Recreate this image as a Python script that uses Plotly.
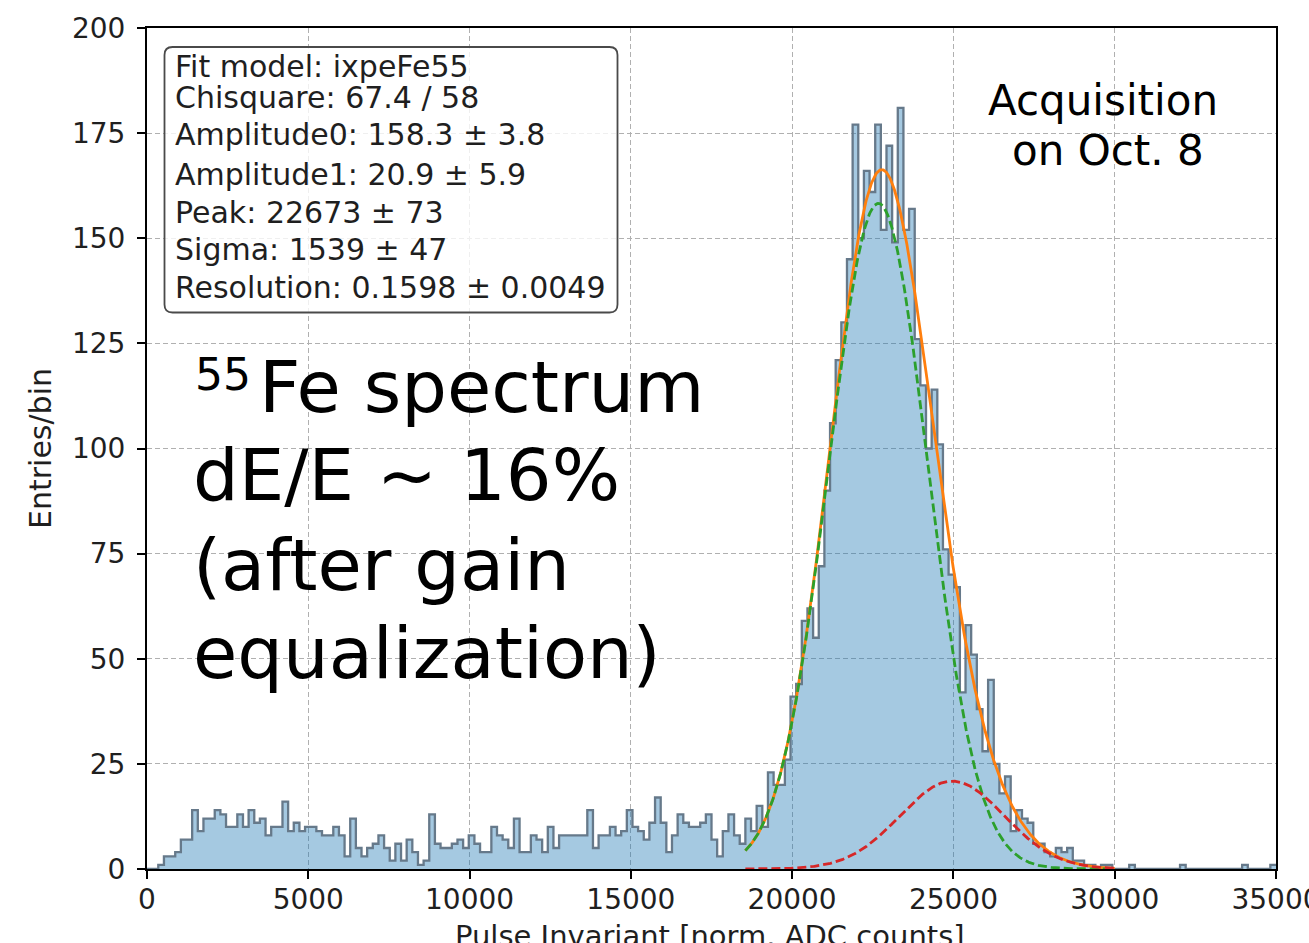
import numpy as np
import plotly.graph_objects as go

# ---------------- data ----------------
BIN_WIDTH = 175.0          # ADC counts per bin
X_START = 0.0
counts = [
    0, 0, 1, 3, 3, 4, 7, 7, 14, 9,
    12, 12, 14, 13, 10, 10, 13, 10, 14, 11,
    12, 8, 10, 10, 16, 9, 11, 9, 10, 10,
    9, 8, 8, 10, 8, 3, 12, 5, 3, 5,
    6, 8, 5, 2, 6, 2, 7, 4, 1, 2,
    13, 6, 5, 5, 6, 7, 5, 8, 6, 4,
    4, 10, 8, 7, 5, 12, 4, 4, 8, 7,
    4, 10, 5, 8, 8, 8, 8, 8, 14, 5,
    8, 8, 10, 8, 9, 14, 10, 9, 7, 11,
    17, 11, 4, 8, 13, 11, 10, 10, 11, 13,
    7, 3, 9, 13, 8, 6, 12, 9, 15, 10,
    23, 20, 20, 26, 41, 44, 59, 62, 55, 72,
    90, 106, 121, 130, 145, 177, 150, 166, 161, 177,
    152, 172, 149, 181, 152, 157, 126, 115, 100, 114,
    101, 76, 70, 67, 42, 58, 51, 38, 28, 45,
    25, 18, 22, 9, 14, 12, 11, 6, 6, 4,
    3, 5, 4, 5, 2, 2, 1, 1, 0, 1,
    1, 0, 0, 0, 1, 0, 0, 0, 0, 0,
    0, 0, 0, 1, 0, 0, 0, 0, 0, 0,
    0, 0, 0, 0, 1, 0, 0, 0, 0, 1,
]

# fit results (ixpeFe55 model: K-alpha + K-beta gaussians)
AMPLITUDE0 = 158.3
AMPLITUDE1 = 20.9
PEAK = 22673.0
SIGMA = 1539.0
KBETA_KALPHA_RATIO = 6.490 / 5.895
FIT_RANGE = [18550.0, 30000.0]

x_ticks = [0, 5000, 10000, 15000, 20000, 25000, 30000, 35000]
y_ticks = [0, 25, 50, 75, 100, 125, 150, 175, 200]
x_title = "Pulse Invariant [norm. ADC counts]"
y_title = "Entries/bin"

stat_lines = [
    "Fit model: ixpeFe55",
    "Chisquare: 67.4 / 58",
    "Amplitude0: 158.3 \u00b1 3.8",
    "Amplitude1: 20.9 \u00b1 5.9",
    "Peak: 22673 \u00b1 73",
    "Sigma: 1539 \u00b1 47",
    "Resolution: 0.1598 \u00b1 0.0049",
]
big_lines = ["Fe spectrum", "dE/E ~ 16%", "(after gain", "equalization)"]
big_sup = "55"
acq_lines = ["Acquisition", "on Oct. 8"]

# ---------------- geometry ----------------
W, H = 1309, 943
ML, MR, MT, MB = 147, 33, 28, 74
PW, PH = W - ML - MR, H - MT - MB
FONT = "DejaVu Sans"
TXT = "#1f1f1f"


def px(xp):
    return (xp - ML) / PW


def py(yp):
    return (H - MB - yp) / PH


# ---------------- traces ----------------
edges = X_START + BIN_WIDTH * np.arange(len(counts) + 1)
step_y = list(counts) + [counts[-1]]

xf = np.linspace(FIT_RANGE[0], FIT_RANGE[1], 600)
peak1 = PEAK * KBETA_KALPHA_RATIO
sigma1 = SIGMA * np.sqrt(KBETA_KALPHA_RATIO)
g0 = AMPLITUDE0 * np.exp(-0.5 * ((xf - PEAK) / SIGMA) ** 2)
g1 = AMPLITUDE1 * np.exp(-0.5 * ((xf - peak1) / sigma1) ** 2)

fig = go.Figure()
fig.add_trace(go.Scatter(
    x=edges, y=step_y, mode="lines", line_shape="hv",
    line=dict(color="#66798a", width=2.3),
    fill="tozeroy", fillcolor="rgba(31,119,180,0.4)",
    hoverinfo="skip", showlegend=False))
fig.add_trace(go.Scatter(x=xf, y=g0 + g1, mode="lines",
                         line=dict(color="#ff7f0e", width=2.8), showlegend=False))
fig.add_trace(go.Scatter(x=xf, y=g0, mode="lines",
                         line=dict(color="#2ca02c", width=2.8, dash="9px,4px"), showlegend=False))
fig.add_trace(go.Scatter(x=xf, y=g1, mode="lines",
                         line=dict(color="#d62728", width=2.8, dash="9px,4px"), showlegend=False))

axis_common = dict(
    showline=True, linecolor="black", linewidth=2, mirror=True,
    ticks="outside", ticklen=8, tickwidth=2, tickcolor="black",
    showgrid=True, gridcolor="#b0b0b0", gridwidth=1.2, griddash="5px,3px",
    zeroline=False, automargin=False, ticklabeloverflow="allow",
    tickfont=dict(family=FONT, size=28, color=TXT),
)

fig.update_layout(
    width=W, height=H,
    margin=dict(l=ML, r=MR, t=MT, b=MB, pad=0),
    paper_bgcolor="white", plot_bgcolor="white",
    font=dict(family=FONT, color=TXT),
    xaxis=dict(range=[0, 35000], tickvals=x_ticks, ticktext=[str(v) for v in x_ticks],
               ticklabelstandoff=-4,
               **axis_common),
    yaxis=dict(range=[0, 200], tickvals=y_ticks, ticktext=[str(v) for v in y_ticks],
               title=dict(text=y_title,
                          font=dict(family=FONT, size=30, color=TXT), standoff=11),
               ticklabelstandoff=6,
               **axis_common),
)

# stats box (rounded rectangle)
bx0, bx1, by0, by1 = px(164.5), px(617.5), py(312.5), py(47)
rx, ry = 8 / PW, 8 / PH
path = (f"M {bx0+rx},{by1} L {bx1-rx},{by1} Q {bx1},{by1} {bx1},{by1-ry} "
        f"L {bx1},{by0+ry} Q {bx1},{by0} {bx1-rx},{by0} L {bx0+rx},{by0} "
        f"Q {bx0},{by0} {bx0},{by0+ry} L {bx0},{by1-ry} Q {bx0},{by1} {bx0+rx},{by1} Z")
fig.add_shape(type="path", path=path, xref="paper", yref="paper",
              fillcolor="rgba(255,255,255,0.8)", line=dict(color="#4a4a4a", width=1.8),
              layer="above")

annotations = []
# x-axis title (sits partly below the bottom edge, as in the reference)
annotations.append(dict(
    x=px(710), y=py(936), xref="paper", yref="paper", text=x_title,
    showarrow=False, xanchor="center", yanchor="middle",
    font=dict(family=FONT, size=29, color=TXT)))

STAT = 30
stat_baselines = [77.3, 108.3, 145, 185, 223, 260, 298]
for line, base in zip(stat_lines, stat_baselines):
    annotations.append(dict(
        x=px(173), y=py(base - 0.346 * STAT), xref="paper", yref="paper",
        text=line, showarrow=False, xanchor="left", yanchor="middle",
        font=dict(family=FONT, size=STAT, color=TXT)))

big_baselines = [411.7, 500, 590, 678]
BIG = 72
annotations.append(dict(
    x=px(193), y=py(390 - 0.346 * 44), xref="paper", yref="paper",
    text=big_sup, showarrow=False, xanchor="left", yanchor="middle",
    font=dict(family=FONT, size=44, color="black")))
for i, (line, base) in enumerate(zip(big_lines, big_baselines)):
    annotations.append(dict(
        x=px(257 if i == 0 else 191), y=py(base - 0.346 * BIG), xref="paper", yref="paper",
        text=line, showarrow=False, xanchor="left", yanchor="middle",
        font=dict(family=FONT, size=BIG, color="black")))

for line, base, cx in zip(acq_lines, [115, 165], [1103, 1108]):
    annotations.append(dict(
        x=px(cx), y=py(base - 0.346 * 42), xref="paper", yref="paper",
        text=line, showarrow=False, xanchor="center", yanchor="middle",
        font=dict(family=FONT, size=42, color="black")))

fig.update_layout(annotations=annotations)

fig.write_html("out.html")
